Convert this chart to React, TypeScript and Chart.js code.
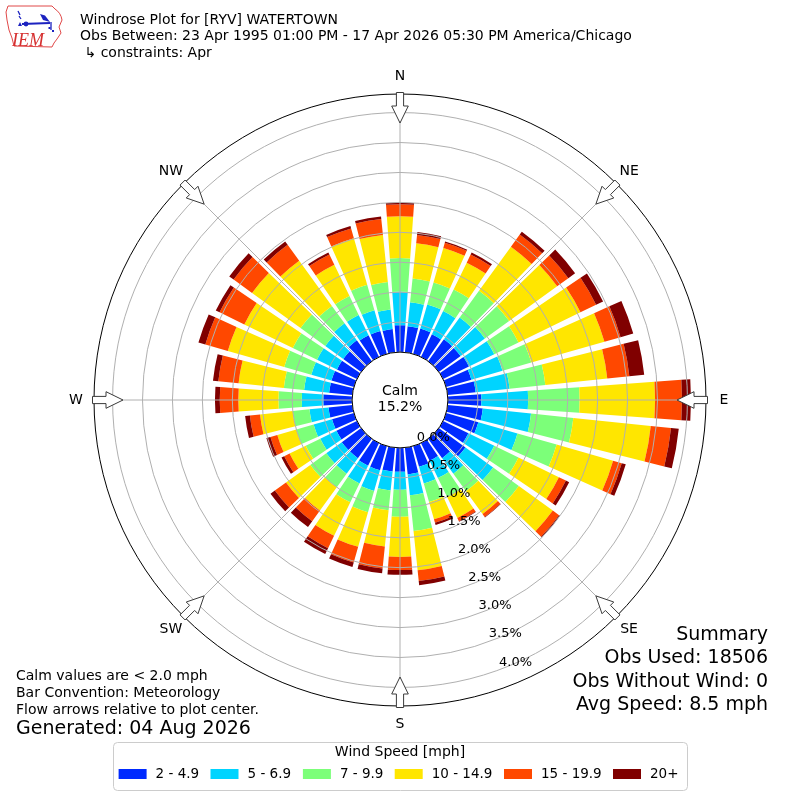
import { useEffect, useRef } from "react";
import { Chart, registerables } from "chart.js";

Chart.register(...registerables);

// ---------------- data ----------------
const directions = [
  0, 10, 20, 30, 40, 50, 60, 70, 80, 90, 100, 110, 120, 130, 140, 150, 160, 170,
  180, 190, 200, 210, 220, 230, 240, 250, 260, 270, 280, 290, 300, 310, 320, 330, 340, 350,
];
const directionLabels = directions.map((d) => `${d}°`);

const speedBins = ["2 - 4.9", "5 - 6.9", "7 - 9.9", "10 - 14.9", "15 - 19.9", "20+"];
const binColors = ["#002aff", "#00d4ff", "#7cff79", "#ffe600", "#ff4800", "#800000"];

// frequency (%) of observations per direction, one array per speed bin
const freq2to5 = [
  0.45, 0.44, 0.44, 0.42, 0.45, 0.45, 0.48, 0.44, 0.47, 0.56, 0.59, 0.56, 0.47, 0.55, 0.4, 0.33, 0.36, 0.45,
  0.4, 0.4, 0.42, 0.42, 0.4, 0.4, 0.38, 0.38, 0.4, 0.48, 0.39, 0.39, 0.37, 0.37, 0.43, 0.4, 0.4, 0.39,
];
const freq5to7 = [
  0.56, 0.4, 0.42, 0.43, 0.45, 0.5, 0.47, 0.54, 0.57, 0.78, 0.81, 0.68, 0.48, 0.57, 0.32, 0.32, 0.29, 0.35,
  0.3, 0.32, 0.36, 0.33, 0.32, 0.32, 0.3, 0.32, 0.32, 0.36, 0.42, 0.35, 0.37, 0.37, 0.35, 0.38, 0.36, 0.33,
];
const freq7to10 = [
  0.56, 0.4, 0.38, 0.4, 0.55, 0.5, 0.45, 0.5, 0.6, 0.86, 0.71, 0.68, 0.45, 0.53, 0.36, 0.35, 0.32, 0.6,
  0.45, 0.33, 0.37, 0.35, 0.28, 0.33, 0.27, 0.3, 0.28, 0.39, 0.34, 0.47, 0.45, 0.51, 0.36, 0.35, 0.44, 0.46,
];
const freq10to15 = [
  0.7, 0.59, 0.6, 0.5, 0.91, 0.99, 1.15, 1.27, 1.04, 1.26, 1.3, 0.98, 0.75, 0.7, 0.47, 0.39, 0.3, 0.66,
  0.67, 0.61, 0.6, 0.62, 0.48, 0.5, 0.3, 0.33, 0.55, 0.67, 0.76, 0.98, 0.9, 1.0, 0.93, 0.58, 0.81, 0.79,
];
const freq15to20 = [
  0.2, 0.14, 0.09, 0.15, 0.25, 0.23, 0.29, 0.28, 0.37, 0.45, 0.34, 0.15, 0.13, 0.13, 0.06, 0.06, 0.06, 0.18,
  0.22, 0.37, 0.27, 0.23, 0.22, 0.23, 0.1, 0.12, 0.17, 0.31, 0.34, 0.39, 0.46, 0.38, 0.33, 0.19, 0.17, 0.27,
];
const freq20plus = [
  0.03, 0.05, 0.02, 0.04, 0.06, 0.14, 0.13, 0.22, 0.25, 0.15, 0.13, 0.07, 0.06, 0.02, 0.01, 0.01, 0.04, 0.07,
  0.08, 0.08, 0.08, 0.11, 0.12, 0.09, 0.05, 0.07, 0.08, 0.08, 0.09, 0.12, 0.07, 0.09, 0.07, 0.04, 0.04, 0.04,
];
const binSeries = [freq2to5, freq5to7, freq7to10, freq10to15, freq15to20, freq20plus];

const ringTicks = [0, 0.5, 1.0, 1.5, 2.0, 2.5, 3.0, 3.5, 4.0];
const compassLabels = ["N", "NE", "E", "SE", "S", "SW", "W", "NW"];
const calmPercent = "15.2%";

const titleLines = [
  "Windrose Plot for [RYV] WATERTOWN",
  "Obs Between: 23 Apr 1995 01:00 PM - 17 Apr 2026 05:30 PM America/Chicago",
  " \u21b3 constraints: Apr",
];
const noteLines = [
  "Calm values are < 2.0 mph",
  "Bar Convention: Meteorology",
  "Flow arrows relative to plot center.",
];
const generatedText = "Generated: 04 Aug 2026";
const summaryLines = ["Summary", "Obs Used: 18506", "Obs Without Wind: 0", "Avg Speed: 8.5 mph"];
const legendTitle = "Wind Speed [mph]";

// scale limits (percent)
const R_MIN = -0.8;
const R_MAX = 4.31;
const BAR_OPENING = 0.82;

const FONT = '"DejaVu Sans", "Liberation Sans", sans-serif';

function drawLogo(ctx: CanvasRenderingContext2D) {
  ctx.save();
  ctx.strokeStyle = "#e04848";
  ctx.lineWidth = 1;
  ctx.beginPath();
  ctx.moveTo(8, 6);
  ctx.lineTo(52, 6);
  ctx.lineTo(55, 9);
  ctx.quadraticCurveTo(61, 13, 62, 20);
  ctx.lineTo(59, 27);
  ctx.lineTo(61, 33);
  ctx.lineTo(57, 39);
  ctx.lineTo(54, 43);
  ctx.lineTo(52, 47);
  ctx.lineTo(14, 46);
  ctx.lineTo(12, 38);
  ctx.lineTo(9, 30);
  ctx.lineTo(7, 20);
  ctx.lineTo(6, 12);
  ctx.closePath();
  ctx.stroke();

  ctx.strokeStyle = "#1c22c0";
  ctx.fillStyle = "#1c22c0";
  ctx.lineWidth = 2.2;
  ctx.beginPath();
  ctx.moveTo(22, 24);
  ctx.lineTo(50, 23);
  ctx.stroke();
  ctx.beginPath();
  ctx.arc(26, 24, 2.4, 0, Math.PI * 2);
  ctx.fill();
  ctx.beginPath();
  ctx.moveTo(40, 14);
  ctx.lineTo(45, 15.5);
  ctx.lineTo(50, 22);
  ctx.lineTo(43, 20);
  ctx.closePath();
  ctx.fill();
  ctx.lineWidth = 1.3;
  ctx.beginPath();
  ctx.moveTo(18, 11);
  ctx.lineTo(20, 15);
  ctx.moveTo(19, 16);
  ctx.lineTo(21, 19);
  ctx.moveTo(51, 22);
  ctx.lineTo(51, 30);
  ctx.stroke();
  ctx.beginPath();
  ctx.moveTo(18, 26);
  ctx.lineTo(22, 26);
  ctx.lineTo(20, 22);
  ctx.closePath();
  ctx.fill();
  ctx.fillRect(48.5, 27, 2, 2);
  ctx.fillRect(52, 30, 2, 2);

  ctx.fillStyle = "#d63030";
  ctx.font = 'italic 18px "Liberation Serif", "DejaVu Serif", serif';
  ctx.textAlign = "left";
  ctx.textBaseline = "alphabetic";
  ctx.fillText("IEM", 12, 46);
  ctx.restore();
}

const windrosePlugin = {
  id: "windrose",
  beforeDraw(chart: any) {
    const ctx = chart.ctx;
    ctx.save();
    ctx.fillStyle = "#ffffff";
    ctx.fillRect(0, 0, chart.width, chart.height);
    ctx.restore();
  },
  afterDatasetsDraw(chart: any) {
    const ctx: CanvasRenderingContext2D = chart.ctx;
    const scale = chart.scales.r;
    const cx = scale.xCenter;
    const cy = scale.yCenter;
    const n = chart.data.labels.length;
    const half = ((Math.PI * 2) / n) * BAR_OPENING * 0.5;
    ctx.save();
    for (let i = 0; i < n; i++) {
      const a = scale.getIndexAngle(i) - Math.PI / 2;
      let cum = 0;
      chart.data.datasets.forEach((ds: any) => {
        const v = ds.data[i] as number;
        const r0 = scale.getDistanceFromCenterForValue(cum);
        cum += v;
        const r1 = scale.getDistanceFromCenterForValue(cum);
        ctx.beginPath();
        ctx.arc(cx, cy, r1, a - half, a + half);
        ctx.arc(cx, cy, r0, a + half, a - half, true);
        ctx.closePath();
        ctx.fillStyle = ds.backgroundColor;
        ctx.fill();
      });
    }
    ctx.restore();
  },
  afterDraw(chart: any) {
    const ctx: CanvasRenderingContext2D = chart.ctx;
    const scale = chart.scales.r;
    const cx = scale.xCenter;
    const cy = scale.yCenter;
    const R = scale.drawingArea;
    const r0 = scale.getDistanceFromCenterForValue(0);
    ctx.save();

    // compass angle lines
    ctx.strokeStyle = "#b0b0b0";
    ctx.lineWidth = 1;
    for (let k = 0; k < 8; k++) {
      const t = (k * Math.PI) / 4;
      ctx.beginPath();
      ctx.moveTo(cx + r0 * Math.sin(t), cy - r0 * Math.cos(t));
      ctx.lineTo(cx + R * Math.sin(t), cy - R * Math.cos(t));
      ctx.stroke();
    }

    // calm circle
    ctx.beginPath();
    ctx.arc(cx, cy, r0, 0, Math.PI * 2);
    ctx.fillStyle = "#ffffff";
    ctx.fill();
    ctx.strokeStyle = "#000000";
    ctx.lineWidth = 1;
    ctx.stroke();

    ctx.fillStyle = "#000";
    ctx.font = `14px ${FONT}`;
    ctx.textAlign = "center";
    ctx.textBaseline = "middle";
    ctx.fillText("Calm", cx, cy - 9);
    ctx.fillText(calmPercent, cx, cy + 7);

    // ring labels
    ctx.font = `13px ${FONT}`;
    const la = (20.1 * Math.PI) / 180;
    ringTicks.forEach((v) => {
      const r = scale.getDistanceFromCenterForValue(v);
      ctx.fillText(`${v.toFixed(1)}%`, cx + r * Math.sin(la) + 16.8, cy + r * Math.cos(la) - 7.8);
    });

    // arrows
    ctx.lineWidth = 1;
    ctx.strokeStyle = "#3a3a3a";
    ctx.fillStyle = "#ffffff";
    const shape: [number, number][] = [
      [R + 1.5, -3.6], [R - 12, -3.6], [R - 12, -8.3], [R - 29, 0],
      [R - 12, 8.3], [R - 12, 3.6], [R + 1.5, 3.6],
    ];
    for (let k = 0; k < 8; k++) {
      const t = (k * Math.PI) / 4;
      const s = Math.sin(t);
      const c = Math.cos(t);
      ctx.beginPath();
      shape.forEach(([r, p], j) => {
        const x = cx + r * s + p * c;
        const y = cy - r * c + p * s;
        if (j === 0) ctx.moveTo(x, y);
        else ctx.lineTo(x, y);
      });
      ctx.closePath();
      ctx.fill();
      ctx.stroke();
    }

    // compass labels
    ctx.fillStyle = "#000";
    ctx.font = `14px ${FONT}`;
    compassLabels.forEach((lab, k) => {
      const t = (k * Math.PI) / 4;
      const rr = R + 18;
      ctx.fillText(lab, cx + rr * Math.sin(t), cy - rr * Math.cos(t));
    });

    // header
    drawLogo(ctx);
    ctx.fillStyle = "#000";
    ctx.textAlign = "left";
    ctx.textBaseline = "middle";
    ctx.font = `14px ${FONT}`;
    titleLines.forEach((line, i) => ctx.fillText(line, 80, 20 + i * 16.6));

    // notes
    noteLines.forEach((line, i) => ctx.fillText(line, 16, 676 + i * 17));
    ctx.font = `19px ${FONT}`;
    ctx.fillText(generatedText, 16, 729);

    // summary
    ctx.textAlign = "right";
    ctx.font = `19px ${FONT}`;
    summaryLines.forEach((line, i) => ctx.fillText(line, 768, 635 + i * 23.4));

    // legend
    const lx = 113, ly = 742, lw = 574, lh = 48;
    ctx.beginPath();
    ctx.roundRect(lx + 0.5, ly + 0.5, lw, lh, 4);
    ctx.fillStyle = "#ffffff";
    ctx.fill();
    ctx.strokeStyle = "#cccccc";
    ctx.lineWidth = 1;
    ctx.stroke();
    ctx.fillStyle = "#000";
    ctx.textAlign = "center";
    ctx.font = `14px ${FONT}`;
    ctx.fillText(legendTitle, 400, 752);
    ctx.textAlign = "left";
    ctx.font = `13.5px ${FONT}`;
    const patchX = [118.6, 210.5, 302.9, 394.7, 504, 613];
    chart.data.datasets.forEach((ds: any, k: number) => {
      const x = patchX[k];
      ctx.fillStyle = ds.backgroundColor;
      ctx.fillRect(x, 769, 28, 10);
      ctx.fillStyle = "#000";
      ctx.fillText(ds.label, x + 37, 774);
    });

    ctx.restore();
  },
};

export default function App() {
  const ref = useRef<HTMLCanvasElement>(null);
  useEffect(() => {
    const canvas = ref.current;
    if (!canvas) return;
    const datasets = speedBins.map((label, k) => ({
      label,
      data: binSeries[k],
      backgroundColor: binColors[k],
      borderColor: binColors[k],
      borderWidth: 0,
      pointRadius: 0,
      pointHoverRadius: 0,
      showLine: false,
      fill: false,
    }));
    const chart = new Chart(canvas, {
      type: "radar",
      data: { labels: directionLabels, datasets },
      options: {
        responsive: false,
        animation: false,
        events: [],
        layout: { padding: 94 },
        plugins: {
          legend: { display: false },
          title: { display: false },
          tooltip: { enabled: false },
        },
        scales: {
          r: {
            min: R_MIN,
            max: R_MAX,
            startAngle: 0,
            angleLines: { display: false },
            pointLabels: { display: false },
            ticks: { display: false, z: 1 },
            grid: {
              circular: true,
              z: 1,
              lineWidth: 1,
              color: (c: any) => (c.tick && c.tick.value > R_MAX - 0.01 ? "#000000" : "#b0b0b0"),
            },
            afterBuildTicks: (s: any) => {
              s.ticks = [...ringTicks, R_MAX].map((value) => ({ value }));
            },
          },
        },
      } as any,
      plugins: [windrosePlugin],
    });
    return () => chart.destroy();
  }, []);
  return (
    <div style={{ position: "absolute", left: 0, top: 0, width: 800, height: 800, background: "#fff" }}>
      <canvas ref={ref} width={800} height={800} style={{ width: 800, height: 800, display: "block" }} />
    </div>
  );
}
